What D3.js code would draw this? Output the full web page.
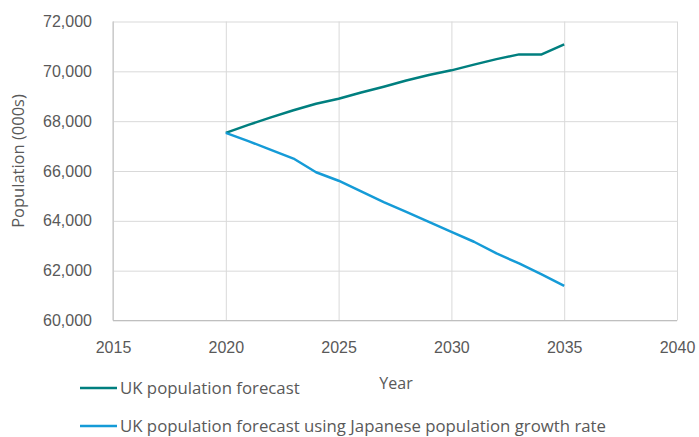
<!DOCTYPE html>
<html>
<head>
<meta charset="utf-8">
<script src="https://cdn.jsdelivr.net/npm/d3@7"></script>
<style>
  html, body { margin: 0; padding: 0; background: #fff; }
  svg { display: block; font-family: "Open Sans", "Noto Sans", sans-serif; }
  .tick text { fill: #595959; font-size: 16px; }
</style>
</head>
<body>
<svg id="chart" width="699" height="437"></svg>
<script>
// Population projections, thousands of people
const years = [2020, 2021, 2022, 2023, 2024, 2025, 2026, 2027, 2028, 2029, 2030, 2031, 2032, 2033, 2034, 2035];
const ukForecast = [67530, 67850, 68150, 68440, 68700, 68900, 69150, 69380, 69630, 69850, 70040, 70270, 70490, 70680, 70680, 71080];
const ukJapanRate = [67530, 67200, 66850, 66500, 65950, 65610, 65180, 64750, 64360, 63960, 63560, 63160, 62690, 62290, 61850, 61390];
const seriesNames = ["UK population forecast", "UK population forecast using Japanese population growth rate"];
const seriesColors = ["#007f7f", "#159bd7"];
const xTicks = [2015, 2020, 2025, 2030, 2035, 2040];
const yTicks = [60000, 62000, 64000, 66000, 68000, 70000, 72000];

const svg = d3.select("#chart");
const x = d3.scaleLinear().domain([2015, 2040]).range([113, 677]);
const y = d3.scaleLinear().domain([60000, 72000]).range([320.5, 21.5]);
const grid = "#d9d9d9";
const fmt = d3.format(",");

// horizontal gridlines with value labels
svg.append("g")
  .attr("transform", `translate(${x(2015)},0)`)
  .call(d3.axisLeft(y).tickValues(yTicks).tickFormat(fmt).tickSize(-(x(2040) - x(2015))).tickPadding(21))
  .call(g => g.select(".domain").remove())
  .call(g => g.selectAll(".tick line").attr("stroke", grid).attr("stroke-width", 1));

// vertical gridlines with year labels
svg.append("g")
  .attr("transform", `translate(0,${y(60000)})`)
  .call(d3.axisBottom(x).tickValues(xTicks).tickFormat(d3.format("d")).tickSize(-(y(60000) - y(72000))).tickPadding(21))
  .call(g => g.select(".domain").remove())
  .call(g => g.selectAll(".tick line").attr("stroke", grid).attr("stroke-width", 1));

// axis lines
svg.append("line").attr("x1", x(2015)).attr("x2", x(2015)).attr("y1", y(72000)).attr("y2", y(60000))
  .attr("stroke", "#bfbfbf");
svg.append("line").attr("x1", x(2015)).attr("x2", x(2040)).attr("y1", y(60000)).attr("y2", y(60000))
  .attr("stroke", "#bfbfbf");

// series lines
const line = d3.line().x((d, i) => x(years[i])).y(d => y(d));
[ukForecast, ukJapanRate].forEach((vals, k) => {
  svg.append("path").datum(vals)
    .attr("d", line)
    .attr("fill", "none")
    .attr("stroke", seriesColors[k])
    .attr("stroke-width", 2.5)
    .attr("stroke-linejoin", "round");
});

// axis titles
svg.append("text").attr("x", 396).attr("y", 389).attr("text-anchor", "middle")
  .attr("fill", "#595959").attr("font-size", 16).text("Year");
svg.append("text").attr("transform", "translate(24,161) rotate(-90)").attr("text-anchor", "middle")
  .attr("fill", "#595959").attr("font-size", 16.5).text("Population (000s)");

// legend
const leg = svg.append("g");
const legendRows = [388, 426];
seriesNames.forEach((name, k) => {
  const ly = legendRows[k];
  leg.append("line").attr("x1", 80).attr("x2", 117).attr("y1", ly).attr("y2", ly)
    .attr("stroke", seriesColors[k]).attr("stroke-width", 2.5);
  leg.append("text").attr("x", 120).attr("y", ly).attr("dy", "0.35em")
    .attr("fill", "#595959").attr("font-size", 16.8).text(name);
});
</script>
</body>
</html>
